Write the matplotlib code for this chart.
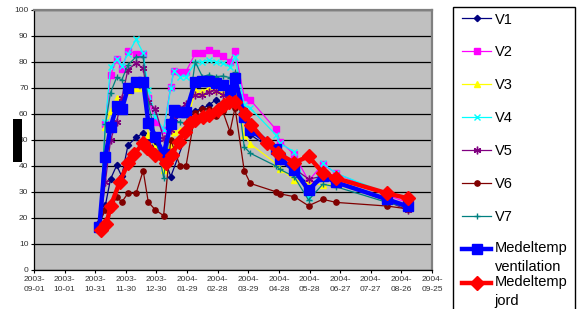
import numpy as np
import pandas as pd
import matplotlib
matplotlib.use("Agg")
import matplotlib.pyplot as plt
from matplotlib.patches import Rectangle

plt.rcParams['font.family'] = ['Liberation Sans', 'DejaVu Sans']

nan = np.nan

# ---- data -------------------------------------------------------------
dates = ["2003-11-04", "2003-11-10", "2003-11-15", "2003-11-21", "2003-11-26",
         "2003-12-02", "2003-12-10", "2003-12-17", "2003-12-22", "2003-12-29",
         "2004-01-06", "2004-01-13", "2004-01-16", "2004-01-22", "2004-01-28",
         "2004-02-06", "2004-02-13", "2004-02-19", "2004-02-26", "2004-03-04",
         "2004-03-11", "2004-03-16", "2004-03-25", "2004-03-31", "2004-04-25",
         "2004-04-29", "2004-05-13", "2004-05-27", "2004-06-10", "2004-06-23",
         "2004-08-12", "2004-09-01"]

V1 = [17, 25, 35, 40.2, 36, 47.9, 51, 52.7, 50.6, 48, 44, 35.9, nan, nan, nan,
      61.2, 62.2, 63.3, 65.4, 64.1, 65.4, 68, 60, 52, 45.5, 42, 38, 33, 35.5,
      33.5, 27, 24]
V2 = [16.5, 56.2, 75, 81, 77.2, 84.3, 83.2, 83.2, 66, 57, 53.8, 70.5, 76.5,
      76.3, 76.3, 83.3, 83.6, 84.6, 83.3, 82.3, 80.1, 84.4, 66.4, 65.4, 54.1,
      49.4, 44.5, 34.3, 40.7, 37.2, 28.8, 25.9]
V3 = [16, 55, 61, 66, 63, 69, 70, 70, 52, 47, 38.5, 48, 53, 54, 55, 69.2,
      68.6, 70, 69.2, 68, 66, 71.8, 51.9, 48.5, 41, 39, 34.7, 33.5, 32.7, 33,
      27, 24.5]
V4 = [16.5, 57, 78, 81, 78.5, 83, 88.7, 83.5, 69.2, 59, 54, 70, 76.7, 74.4,
      74.4, 79.7, 80, 80.8, 80.1, 79.5, 78.2, 82, 63.5, 62.2, 52, 48.7, 45.5,
      27.6, 41, 37.2, 29.5, 26.9]
V5 = [16, 34, 50, 57, 66, 77, 79.5, 77.6, 64.7, 61.8, 50.5, 54, 58, 62, 64,
      67.5, 67.3, 68.6, 69, 67.5, 66, 70, 61.5, 56, 47, 44, 39, 35, 36, 34,
      26.5, 23]
V6 = [18.2, 23.1, 23.3, 28.2, 26.1, 29.5, 29.5, 38.2, 26.1, 23.1, 20.9, 50,
      nan, 40.1, 40.1, 60.5, 62, 62, 59.2, 61, 53.2, 62.4, 38.2, 33.3, 30.1,
      29.3, 28.2, 24.7, 27.2, 26, 24.6, 23.5]
V7 = [16, 56, 68.2, 74.1, 73.1, 78.8, 82, 82, 64, 52, 35.5, 56, 57, 57, 56,
      80, 74.4, 75, 74.4, 74.6, 74, 76, 47.4, 44.9, 40, 38.7, 35.9, 26.9, 33,
      32, 26, 24]
ventilation = [16.4, 43.6, 54.9, 63, 61.8, 69.9, 72.5, 72.5, 56.7, 51.3, 44.5,
               56.2, 61.6, 60.7, 60.9, 72.4, 72.7, 72.7, 72.0, 71.2, 69.2, 74.0,
               58.7, 54.0, 46.6, 42.8, 38.4, 30.8, 36.2, 33.7, 27.2, 24.5]

jord_dates = ["2003-11-06", "2003-11-11", "2003-11-15", "2003-11-24",
              "2003-12-02", "2003-12-08", "2003-12-17", "2003-12-21",
              "2003-12-29", "2004-01-08", "2004-01-14", "2004-01-21",
              "2004-01-27", "2004-02-01", "2004-02-06", "2004-02-14",
              "2004-02-19", "2004-02-28", "2004-03-05", "2004-03-10",
              "2004-03-16", "2004-03-26", "2004-04-01", "2004-04-16",
              "2004-04-27", "2004-05-13", "2004-05-27", "2004-06-10",
              "2004-06-23", "2004-08-12", "2004-09-01"]
jord = [15.5, 17.7, 24.5, 33.8, 41, 44.6, 48.7, 46.8, 44.2, 41.3, 44.2, 49.4,
        53.2, 56.4, 57.7, 59, 59.6, 61.5, 63.5, 64.7, 64.5, 60, 55.8, 48.7,
        44.9, 41.3, 43.7, 37.4, 35.3, 29.5, 27.6]

series_names = ["V1", "V2", "V3", "V4", "V5", "V6", "V7",
                "Medeltemp\nventilation", "Medeltemp\njord"]
tick_start, tick_end = "2003-09-01", "2004-09-25"

# ---- figure -------------------------------------------------------------
W, H = 580, 309
fig = plt.figure(figsize=(W / 100, H / 100), dpi=100)
ax = fig.add_axes([34 / W, 1 - 270 / H, (432 - 34) / W, (270 - 10) / H])
ax.set_facecolor('#C0C0C0')

x = pd.to_datetime(dates)
xj = pd.to_datetime(jord_dates)

styles = [
    dict(color='#000080', marker='D', ms=3.2),
    dict(color='#FF00FF', marker='s', ms=4),
    dict(color='#FFFF00', marker='^', ms=4.5),
    dict(color='#00FFFF', marker='x', ms=4.5, mew=1.0),
    dict(color='#800080', marker=(6, 2, 0), ms=5.5, mew=1.0),
    dict(color='#800000', marker='o', ms=3.8),
    dict(color='#008080', marker='+', ms=5, mew=1.0),
]

handles = []
for vals, name, st in zip([V1, V2, V3, V4, V5, V6, V7], series_names[:7], styles):
    v = np.array(vals, dtype=float)
    m = ~np.isnan(v)
    h, = ax.plot(x[m], v[m], lw=0.9, label=name, zorder=3, **st)
    handles.append(h)

hv, = ax.plot(x, ventilation, color='#0000FF', lw=3.2, marker='s', ms=7.5,
              label=series_names[7], zorder=4)
hj, = ax.plot(xj, jord, color='#FF0000', lw=3.2, marker='D', ms=6.8,
              label=series_names[8], zorder=5)

ax.set_ylim(0, 100)
ax.set_yticks(np.arange(0, 101, 10))
ticks = pd.date_range(tick_start, tick_end, freq='30D')
ax.set_xlim(pd.Timestamp(tick_start), pd.Timestamp(tick_end))
ax.set_xticks(ticks)
ax.set_xticklabels([t.strftime('%Y-\n%m-%d') for t in ticks], linespacing=1.75)

ax.yaxis.grid(True, color='black', lw=0.9)
ax.set_axisbelow(True)
ax.tick_params(axis='both', labelsize=6, colors='#333333', length=2.5,
               width=0.8, pad=1.5)
ax.tick_params(axis='both', color='black')
for s in ['top', 'right']:
    ax.spines[s].set_color('#808080')
    ax.spines[s].set_linewidth(1.6)
for s in ['left', 'bottom']:
    ax.spines[s].set_color('black')
    ax.spines[s].set_linewidth(0.9)

# black box on the left (y-axis title area)
fig.add_artist(Rectangle((13 / W, 1 - 162 / H), 9 / W, 43 / H,
                         transform=fig.transFigure, facecolor='black',
                         edgecolor='none'))

# legend frame
fig.add_artist(Rectangle((453 / W, 1 - 315 / H), 122 / W, (315 - 7) / H,
                         transform=fig.transFigure, facecolor='white',
                         edgecolor='black', lw=1.0, zorder=1))

fs = 10.5
common = dict(loc='upper left', bbox_transform=fig.transFigure, frameon=False,
              fontsize=fs, handlelength=2.0, handletextpad=0.25,
              borderpad=0, borderaxespad=0)
leg_v = fig.legend(handles, series_names[:7],
                   bbox_to_anchor=(462 / W, 1 - 12.5 / H),
                   labelspacing=1.3, **common)
leg_mv = fig.legend([hv], series_names[7:8],
                    bbox_to_anchor=(462 / W, 1 - 240.8 / H), **common)
leg_mj = fig.legend([hj], series_names[8:],
                    bbox_to_anchor=(462 / W, 1 - 274.8 / H), **common)
shift = 6.5
for lg in (leg_mv, leg_mj):
    for t in lg.get_texts():
        t.set_linespacing(1.46)
    lh = lg.legend_handles[0]
    lh.set_ydata(np.asarray(lh.get_ydata()) + shift)

fig.savefig('out.png', dpi=100)
